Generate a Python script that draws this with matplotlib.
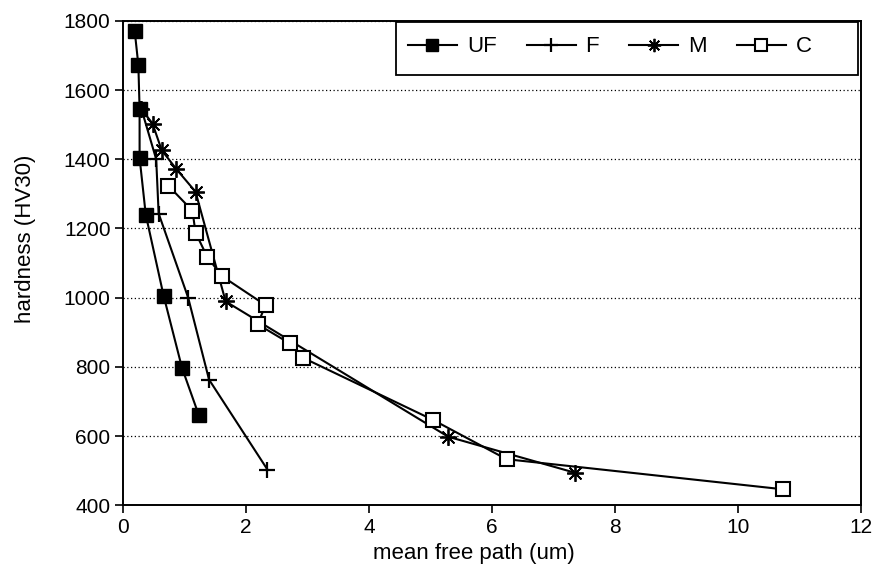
import matplotlib
matplotlib.use("Agg")
import matplotlib.pyplot as plt
from matplotlib.patches import Rectangle

plt.rcParams['font.family'] = ['Liberation Sans', 'DejaVu Sans']

# Data
uf_x = [0.19, 0.25, 0.27, 0.27, 0.37, 0.66, 0.96, 1.23]
uf_y = [1771, 1672, 1545, 1404, 1240, 1006, 797, 662]

f_x = [0.30, 0.54, 0.58, 1.06, 1.40, 2.35]
f_y = [1545, 1400, 1243, 1000, 763, 503]

m_x = [0.30, 0.48, 0.63, 0.87, 1.18, 1.67, 5.29, 7.35]
m_y = [1545, 1503, 1426, 1371, 1306, 989, 598, 494]

c_x = [0.74, 1.13, 1.18, 1.37, 1.61, 2.32, 2.19, 2.71, 2.93, 5.05, 6.24, 10.74]
c_y = [1323, 1251, 1188, 1118, 1062, 978, 923, 868, 826, 646, 533, 446]

x_ticks = [0, 2, 4, 6, 8, 10, 12]
y_ticks = [400, 600, 800, 1000, 1200, 1400, 1600, 1800]

W, H = 876, 576
ax_l, ax_r, ax_t, ax_b = 123.0, 860.5, 20.8, 505.2  # pixel box of axes

fig = plt.figure(figsize=(W / 100, H / 100), dpi=100)
ax = fig.add_axes([ax_l / W, 1 - ax_b / H, (ax_r - ax_l) / W, (ax_b - ax_t) / H])


def ax_xy(px, py):
    return (px - ax_l) / (ax_r - ax_l), (ax_b - py) / (ax_b - ax_t)


ax.plot(f_x, f_y, color='black', lw=1.5, marker='+', ms=12, mew=1.6,
        label='F', zorder=3)
ax.plot(m_x, m_y, color='black', lw=1.5, marker=(8, 2, 0), ms=12, mew=1.3,
        label='M', zorder=3)
ax.plot(c_x, c_y, color='black', lw=1.5, marker='s', ms=10, mfc='white',
        mec='black', mew=1.5, label='C', zorder=4)
ax.plot(uf_x, uf_y, color='black', lw=1.5, marker='s', ms=10, mfc='black',
        mec='black', label='UF', zorder=5)

ax.set_xlim(0, 12)
ax.set_ylim(400, 1800)
ax.set_xticks(x_ticks)
ax.set_yticks(y_ticks)
ax.tick_params(direction='out', length=6, width=1.2, labelsize=15, pad=3,
               colors='black')
ax.yaxis.grid(True, linestyle=(0, (1, 2)), color='black', lw=0.9)
ax.set_axisbelow(True)
for s in ax.spines.values():
    s.set_linewidth(1.4)
    s.set_color('black')

ax.set_xlabel('mean free path (um)', fontsize=16)
ax.xaxis.set_label_coords(ax_xy(474, 0)[0], ax_xy(0, 553)[1], transform=ax.transAxes)
ax.xaxis.label.set_va('center')
ax.set_ylabel('hardness (HV30)', fontsize=16)
ax.yaxis.set_label_coords(ax_xy(26, 0)[0], 0.55, transform=ax.transAxes)
ax.yaxis.label.set_va('center')

# legend box
x0, y1 = ax_xy(396, 22)
x1, y0 = ax_xy(858, 75)
box = Rectangle((x0, y0), x1 - x0, y1 - y0, transform=ax.transAxes,
                facecolor='white', edgecolor='black', lw=1.3, zorder=6)
ax.add_patch(box)

handles, labels = ax.get_legend_handles_labels()
order = [labels.index(l) for l in ['UF', 'F', 'M', 'C']]
lx, ly = ax_xy(408, 47)
leg = ax.legend([handles[i] for i in order], [labels[i] for i in order],
                loc='center left', bbox_to_anchor=(lx, ly),
                ncol=4, fontsize=16, frameon=False,
                borderaxespad=0.0, borderpad=0.0, handlelength=2.2,
                handletextpad=0.45, columnspacing=1.35, markerscale=0.8)
leg.set_zorder(7)

fig.savefig('out.png', dpi=100)
